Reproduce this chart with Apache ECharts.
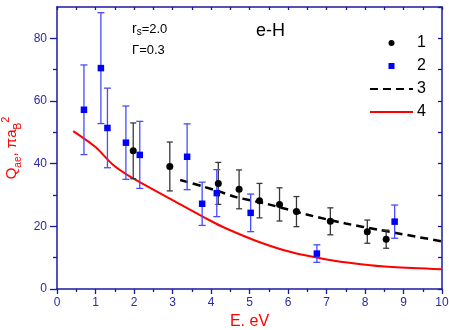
<!DOCTYPE html>
<html>
<head>
<meta charset="utf-8">
<script src="https://cdn.jsdelivr.net/npm/echarts@6/dist/echarts.min.js"></script>
<style>html,body{margin:0;padding:0;background:#fff}#c{width:449px;height:330px}</style>
</head>
<body>
<div id="c"></div>
<script>
// Series 1 (black circles) with error bars
const E1 = [1.98, 2.93, 4.19, 4.73, 5.26, 5.78, 6.22, 7.10, 8.06, 8.55];
const Q1 = [44.1, 39.1, 33.7, 31.8, 28.2, 27.0, 24.7, 21.6, 18.3, 15.9];
const ERR1 = [8.9, 7.8, 6.7, 6.2, 5.5, 5.3, 4.8, 4.3, 3.7, 2.9];
// Series 2 (blue squares) with error bars
const E2 = [0.70, 1.14, 1.31, 1.79, 2.15, 3.38, 3.77, 4.15, 5.03, 6.75, 8.77];
const Q2 = [57.2, 70.5, 51.4, 46.7, 42.8, 42.2, 27.2, 30.6, 24.3, 11.3, 21.5];
const ERR2 = [14.3, 17.7, 12.7, 11.7, 10.7, 10.5, 6.9, 7.5, 6.0, 2.8, 5.3];
// Curve 3 (black dashed)
const E3 = [3.2, 3.77, 4.2, 4.63, 5.5, 6.54, 7.5, 8.4, 10];
const Q3 = [34.8, 32.8, 31.2, 29.4, 27.0, 23.6, 20.9, 18.8, 15.2];
// Curve 4 (red)
const E4 = [0.42, 1.0, 1.46, 1.98, 3.0, 4.0, 4.38, 5.23, 6.1, 6.97, 7.84, 8.71, 10];
const Q4 = [50.4, 45.3, 39.6, 35.3, 28.4, 21.7, 19.4, 15.1, 11.7, 9.5, 8.0, 7.0, 6.3];
// Tick labels
const X_TICKS = [0, 1, 2, 3, 4, 5, 6, 7, 8, 9, 10];
const Y_TICKS = [0, 20, 40, 60, 80];
const Y_MINOR = [10, 30, 50, 70];
const LEGEND = ['1', '2', '3', '4'];

const NAVY = '#1a1aa0';
const LBL = '#2a2aaa';
const FONT = '"Liberation Sans", Arial, sans-serif';

const zip = (a, b, c) => a.map((v, i) => c ? [v, b[i], c[i]] : [v, b[i]]);

function errRender(color, cap) {
  return function (params, api) {
    const x = api.value(0), y = api.value(1), e = api.value(2);
    const t = api.coord([x, y + e]);
    const b = api.coord([x, y - e]);
    const hw = cap / 2;
    const style = { stroke: color, lineWidth: 1.3 };
    return {
      type: 'group', children: [
        { type: 'line', shape: { x1: t[0], y1: t[1], x2: b[0], y2: b[1] }, style },
        { type: 'line', shape: { x1: t[0] - hw, y1: t[1], x2: t[0] + hw, y2: t[1] }, style },
        { type: 'line', shape: { x1: b[0] - hw, y1: b[1], x2: b[0] + hw, y2: b[1] }, style }
      ]
    };
  };
}

const axLine = { show: true, onZero: false, lineStyle: { color: NAVY, width: 1.5 } };
const tickStyle = { color: NAVY, width: 1.3 };
const SQUARE = 'path://M0,0L10,0L10,10L0,10Z';

const chart = echarts.init(document.getElementById('c'), null, { renderer: 'canvas' });
chart.setOption({
  animation: false,
  backgroundColor: '#fff',
  textStyle: { fontFamily: FONT },
  grid: { left: 57, right: 7, top: 7, bottom: 41, containLabel: false, outerBoundsMode: 'none' },
  legend: {
    data: [
      { name: LEGEND[0], icon: 'circle' },
      { name: LEGEND[1], icon: SQUARE },
      { name: LEGEND[2], itemStyle: { opacity: 0 } },
      { name: LEGEND[3], itemStyle: { opacity: 0 } }
    ],
    orient: 'vertical',
    left: 369,
    top: 35,
    padding: 0,
    itemWidth: 43,
    itemHeight: 6,
    itemGap: 7,
    align: 'left',
    symbolKeepAspect: true,
    textStyle: { fontSize: 16, color: '#000', fontFamily: FONT, lineHeight: 16, padding: [0, 0, 0, -1] }
  },
  xAxis: [
    {
      type: 'value', min: 0, max: 10, interval: 1, position: 'bottom',
      axisLine: axLine,
      axisTick: { show: true, inside: false, length: 5, lineStyle: tickStyle },
      minorTick: { show: true, splitNumber: 2, length: 3, lineStyle: tickStyle },
      axisLabel: { color: LBL, fontSize: 12, margin: 8, fontFamily: FONT, customValues: X_TICKS },
      splitLine: { show: false }, minorSplitLine: { show: false },
      name: 'E. eV', nameLocation: 'middle', nameGap: 25,
      nameTextStyle: { color: '#ff0000', fontSize: 16, fontFamily: FONT }
    },
    {
      type: 'value', min: 0, max: 10, interval: 0.5, position: 'top',
      axisLine: axLine,
      axisTick: { show: true, inside: true, length: 3, lineStyle: tickStyle },
      axisLabel: { show: false }, splitLine: { show: false }
    }
  ],
  yAxis: [
    {
      type: 'value', min: 0, max: 90, position: 'left',
      axisLine: axLine,
      axisTick: { show: true, inside: false, length: 7, lineStyle: tickStyle, customValues: Y_TICKS },
      axisLabel: { color: LBL, fontSize: 12, margin: 10, fontFamily: FONT, customValues: Y_TICKS },
      splitLine: { show: false },
      name: '{a|Q}{b|ae}{a|, πa}{b|B}{c|2}',
      nameLocation: 'middle', nameRotate: 90, nameGap: 28,
      nameTextStyle: {
        color: '#ff0000', fontFamily: FONT,
        rich: {
          a: { fontSize: 15, color: '#ff0000', lineHeight: 22, verticalAlign: 'middle', fontFamily: FONT },
          b: { fontSize: 10, color: '#ff0000', lineHeight: 10, verticalAlign: 'bottom', fontFamily: FONT },
          c: { fontSize: 11, color: '#ff0000', lineHeight: 11, verticalAlign: 'top', fontFamily: FONT }
        }
      }
    },
    {
      type: 'value', min: 0, max: 90, position: 'left',
      axisLine: { show: false, onZero: false },
      axisTick: { show: true, inside: false, length: 4, lineStyle: tickStyle, customValues: Y_MINOR },
      axisLabel: { show: false }, splitLine: { show: false }
    },
    {
      type: 'value', min: 0, max: 90, interval: 10, position: 'right',
      axisLine: axLine,
      axisTick: { show: true, inside: true, length: 4, lineStyle: tickStyle },
      axisLabel: { show: false }, splitLine: { show: false }
    }
  ],
  graphic: [
    {
      type: 'text', left: 132, top: 22,
      style: {
        text: '{r|r}{s|s}{n|=2.0}',
        rich: {
          r: { fontSize: 14, fill: '#000', fontFamily: FONT, lineHeight: 16, verticalAlign: 'middle' },
          s: { fontSize: 10, fill: '#000', fontFamily: FONT, lineHeight: 8, verticalAlign: 'bottom' },
          n: { fontSize: 13, fill: '#000', fontFamily: FONT, lineHeight: 16, verticalAlign: 'middle' }
        }
      }
    },
    {
      type: 'text', left: 132, top: 44,
      style: { text: 'Γ=0.3', fontSize: 13, fill: '#000', fontFamily: FONT }
    },
    {
      type: 'text', left: 256, top: 22,
      style: { text: 'e-H', fontSize: 18, fill: '#000', fontFamily: FONT }
    }
  ],
  series: [
    {
      name: '4', type: 'line', data: zip(E4, Q4), smooth: 0.3,
      symbol: 'none', lineStyle: { color: '#ff0000', width: 2 }, itemStyle: { color: '#ff0000' }, z: 2
    },
    {
      name: '3', type: 'line', data: zip(E3, Q3), smooth: 0.3,
      symbol: 'none', lineStyle: { color: '#000', width: 2.5, type: [8, 5] }, itemStyle: { color: '#000' }, z: 3
    },
    {
      name: 'err1', type: 'custom', data: zip(E1, Q1, ERR1), encode: { x: 0, y: 1 },
      renderItem: errRender('#383838', 6), z: 4
    },
    {
      name: 'err2', type: 'custom', data: zip(E2, Q2, ERR2), encode: { x: 0, y: 1 },
      renderItem: errRender('#4a4aff', 7), z: 4
    },
    {
      name: '1', type: 'scatter', data: zip(E1, Q1), symbol: 'circle', symbolSize: 7,
      itemStyle: { color: '#000', opacity: 1 }, z: 5
    },
    {
      name: '2', type: 'scatter', data: zip(E2, Q2), symbol: 'rect', symbolSize: 6.5,
      itemStyle: { color: '#0000ff', opacity: 1 }, z: 5
    }
  ]
});
</script>
</body>
</html>
